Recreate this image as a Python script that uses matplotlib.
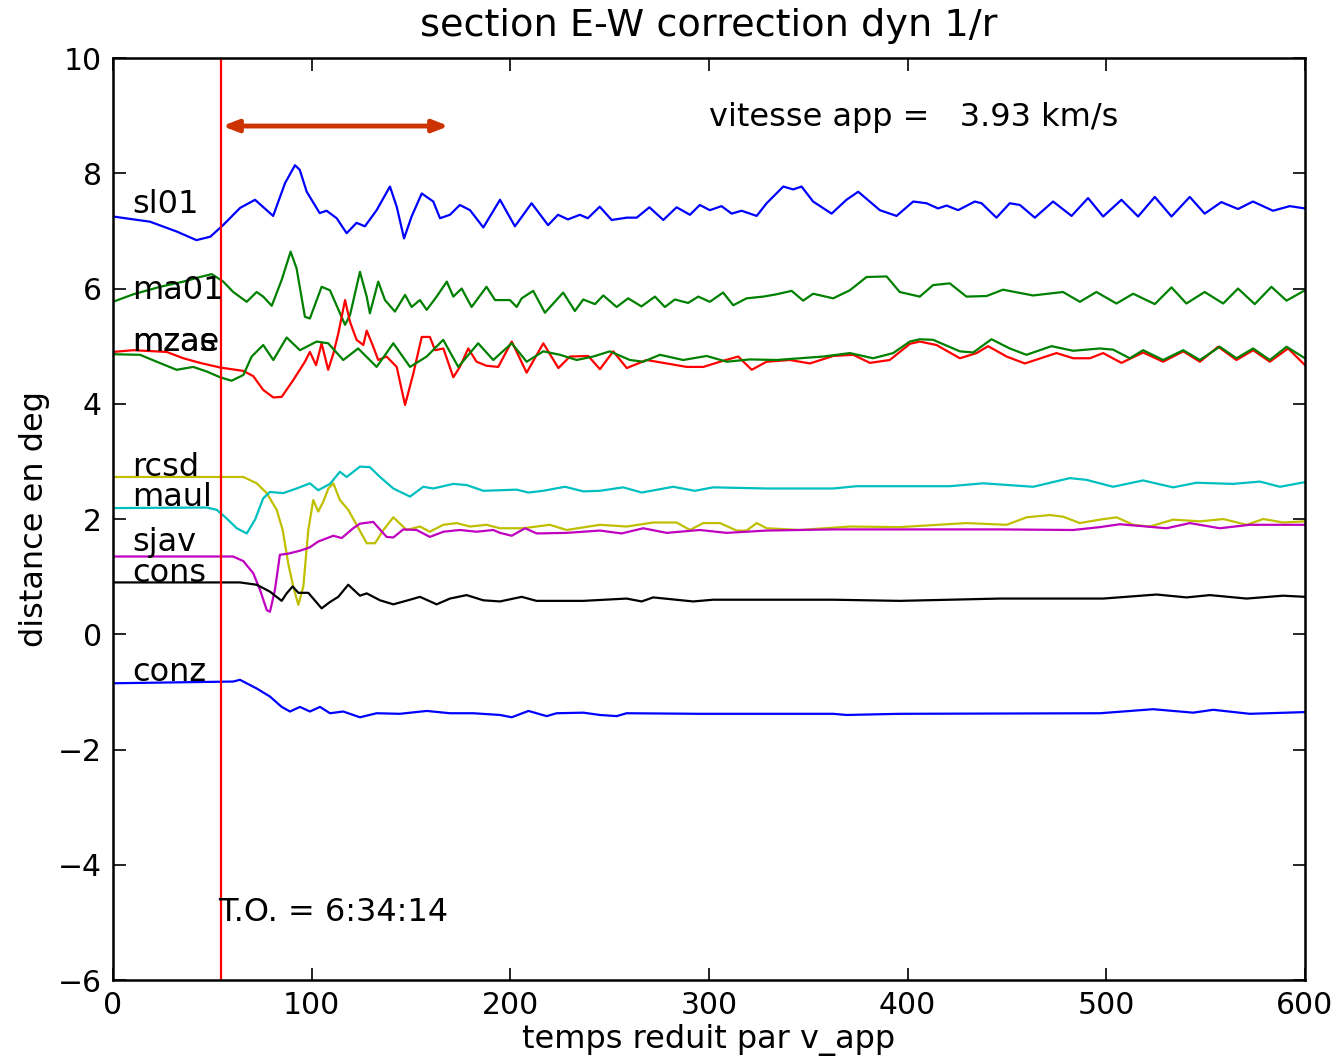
import numpy as np
import matplotlib
matplotlib.use("Agg")
import matplotlib.pyplot as plt

plt.rcParams['font.family'] = ['DejaVu Sans']
plt.rcParams['axes.unicode_minus'] = True

sl01_t = [0, 18.6, 32, 42, 49, 55.4, 64, 71.5, 80.6, 86.6, 91.6, 94, 97.5, 104, 107.5, 112.6, 117.6,
          122.6, 126.8, 132.7, 139.4, 142.8, 146.5, 150.3, 155.4, 161.2, 164.6, 169.6, 174.6, 179.7,
          186.4, 194.8, 202.3, 210.7, 219, 224, 229, 235, 239, 245, 251, 258.6, 263.6, 270, 277,
          283.7, 290.4, 295.4, 300.4, 306.3, 311.4, 316.4, 324, 329, 337.4, 342.4, 346.6, 352.4,
          361.7, 369.2, 375.1, 386, 394.4, 402.8, 409.5, 415.3, 419.6, 425.4, 433.8, 437.2, 444.7,
          451.4, 456.5, 464, 473.2, 482.5, 490.8, 498.4, 507.6, 516, 524.4, 532.8, 542, 549.5,
          557.9, 566.3, 573.8, 583.9, 592.3, 600]
sl01_d = [7.25, 7.16, 6.99, 6.84, 6.90, 7.10, 7.40, 7.54, 7.26, 7.83, 8.14, 8.06, 7.68, 7.31, 7.35,
          7.22, 6.96, 7.14, 7.08, 7.36, 7.77, 7.42, 6.87, 7.25, 7.65, 7.51, 7.22, 7.28, 7.45, 7.36,
          7.06, 7.54, 7.08, 7.48, 7.10, 7.28, 7.20, 7.28, 7.22, 7.42, 7.19, 7.23, 7.23, 7.41, 7.19,
          7.41, 7.28, 7.45, 7.36, 7.43, 7.30, 7.35, 7.26, 7.48, 7.77, 7.72, 7.77, 7.51, 7.30, 7.54,
          7.68, 7.36, 7.26, 7.51, 7.48, 7.39, 7.44, 7.36, 7.51, 7.48, 7.23, 7.48, 7.45, 7.23, 7.51,
          7.26, 7.57, 7.25, 7.54, 7.25, 7.59, 7.25, 7.59, 7.30, 7.50, 7.38, 7.51, 7.35, 7.43, 7.39]

ma01_t = [0, 10.2, 23.7, 35.4, 43.8, 49.7, 55.5, 60.5, 67.3, 72.3, 75.6, 79.9, 84.9, 89.4, 92.4,
          96.6, 99.1, 105, 109.2, 116.8, 119.3, 124.3, 127.7, 129.3, 133.5, 136.9, 141.9, 147,
          150.3, 154.5, 157.9, 162.9, 168, 171.3, 175.5, 180.5, 188, 192.3, 199.8, 203.2, 205.7,
          211.5, 217.4, 226.6, 232.5, 236.7, 242.6, 246.8, 253.5, 259.3, 266, 272.8, 277.8, 282.8,
          289.5, 294.6, 300.4, 307.1, 312.2, 318.9, 327.3, 334, 341.6, 347.4, 352.4, 362.5, 370.9,
          379.3, 389.4, 396, 406.1, 412.8, 421.2, 429.6, 439.7, 448, 463.1, 478.2, 486.7, 495,
          505.1, 513.5, 524.4, 532.8, 540.3, 549.5, 558.8, 566.3, 574.7, 583.1, 590.7, 600]
ma01_d = [5.77, 5.90, 6.03, 6.12, 6.20, 6.25, 6.12, 5.94, 5.77, 5.94, 5.86, 5.70, 6.15, 6.64, 6.35,
          5.51, 5.48, 6.03, 5.97, 5.37, 5.54, 6.29, 5.86, 5.57, 6.12, 5.80, 5.60, 5.89, 5.68, 5.80,
          5.63, 5.86, 6.12, 5.86, 6.00, 5.68, 6.03, 5.80, 5.80, 5.68, 5.83, 5.96, 5.58, 5.93, 5.61,
          5.81, 5.73, 5.88, 5.68, 5.83, 5.69, 5.86, 5.68, 5.81, 5.75, 5.86, 5.77, 5.93, 5.71, 5.83,
          5.86, 5.90, 5.96, 5.79, 5.91, 5.83, 5.97, 6.20, 6.21, 5.94, 5.86, 6.06, 6.09, 5.86, 5.87,
          5.98, 5.88, 5.94, 5.77, 5.94, 5.74, 5.91, 5.73, 6.02, 5.74, 5.94, 5.74, 6.00, 5.73, 6.03,
          5.79, 5.97]

mzas_t = [0, 10.2, 27, 35.4, 43.8, 53.9, 65.6, 70.6, 75.6, 80.7, 84.9, 90.7, 96.6, 99.1, 102.2,
          105, 108.3, 110.9, 113.4, 116.8, 119.3, 122.6, 126, 127.7, 131, 133.5, 137.7, 142.8, 147,
          151.2, 155.4, 159.5, 162.1, 166.3, 171.3, 174.6, 178.8, 183, 188, 193.9, 200.7, 208.2,
          216.6, 224.2, 230, 239.2, 245.1, 251.8, 258.6, 268.6, 278.7, 288.7, 297.2, 305.5, 314.7,
          321.5, 329, 340.7, 350.8, 362.5, 372.6, 381, 391, 401.1, 406.1, 414.5, 426.3, 434.7,
          440.5, 449.8, 459, 474.9, 483.4, 491.7, 498.4, 507.6, 518.5, 528.6, 538.7, 547.1, 556.3,
          565.5, 573.9, 582.3, 591.5, 600]
mzas_d = [4.90, 4.93, 4.90, 4.79, 4.71, 4.63, 4.57, 4.48, 4.24, 4.11, 4.12, 4.41, 4.73, 4.90, 4.67,
          5.05, 4.59, 4.87, 5.22, 5.80, 5.42, 5.11, 5.02, 5.27, 4.99, 4.76, 4.82, 4.64, 3.98, 4.53,
          5.16, 5.16, 4.93, 4.96, 4.46, 4.64, 4.96, 4.73, 4.66, 4.64, 5.08, 4.54, 5.05, 4.62, 4.82,
          4.83, 4.60, 4.91, 4.62, 4.76, 4.70, 4.64, 4.64, 4.73, 4.82, 4.59, 4.73, 4.76, 4.70, 4.83,
          4.85, 4.71, 4.76, 5.04, 5.08, 5.02, 4.79, 4.88, 5.00, 4.82, 4.70, 4.88, 4.79, 4.79, 4.88,
          4.71, 4.89, 4.73, 4.91, 4.73, 4.99, 4.76, 4.93, 4.73, 4.96, 4.67]

mzae_t = [0, 13.6, 22, 32, 40.4, 47.2, 53.9, 59.7, 65.6, 69.8, 75.6, 80.7, 87.4, 94.1, 102.5,
          108.3, 115.9, 123.4, 132.7, 141.1, 149.5, 157.9, 166.2, 173.8, 183.8, 191.4, 200.7, 208.2,
          216.6, 225, 233.4, 241.7, 250.1, 260.2, 266.9, 275.3, 287, 298.8, 308.9, 320.6, 334,
          345.7, 357.5, 370.9, 382.6, 392.7, 401.1, 406.1, 412.8, 426.3, 433, 442.2, 451.4, 459.8,
          472.4, 483.3, 496.7, 503.4, 511.8, 518.5, 528.6, 538.7, 547.1, 557.1, 565.5, 573.9,
          582.3, 590.7, 600]
mzae_d = [4.86, 4.85, 4.73, 4.59, 4.64, 4.56, 4.46, 4.40, 4.50, 4.82, 5.02, 4.76, 5.15, 4.93, 5.08,
          5.05, 4.76, 4.96, 4.64, 5.05, 4.64, 4.82, 5.11, 4.64, 5.05, 4.76, 5.05, 4.73, 4.91, 4.85,
          4.76, 4.82, 4.91, 4.76, 4.73, 4.85, 4.76, 4.83, 4.73, 4.77, 4.76, 4.79, 4.82, 4.88, 4.79,
          4.88, 5.08, 5.12, 5.11, 4.91, 4.89, 5.12, 4.96, 4.85, 5.00, 4.92, 4.96, 4.94, 4.79, 4.93,
          4.76, 4.93, 4.76, 4.99, 4.79, 4.96, 4.76, 4.99, 4.79]

maul_t = [0, 47.2, 52.2, 57.2, 62.3, 67.3, 71.5, 75.6, 79, 85.7, 92.4, 99.1, 103.3, 109.2, 114.2,
          117.6, 124.3, 129.3, 134.4, 141.1, 149.5, 156.2, 161.2, 171.3, 178, 186.4, 194.8, 203.2,
          209.1, 216.6, 227.5, 236.7, 245.1, 256.8, 266.1, 282, 292.9, 302.1, 329, 362.5, 374.3,
          396, 421.2, 438, 463.2, 481.6, 490, 503.4, 518.5, 533.6, 545.4, 563.8, 577.3, 587.4, 600]
maul_d = [2.19, 2.20, 2.16, 2.01, 1.84, 1.75, 1.99, 2.36, 2.47, 2.45, 2.53, 2.62, 2.50, 2.61, 2.82,
          2.73, 2.91, 2.90, 2.73, 2.53, 2.39, 2.56, 2.53, 2.61, 2.59, 2.49, 2.50, 2.51, 2.46, 2.49,
          2.56, 2.48, 2.49, 2.55, 2.46, 2.56, 2.49, 2.55, 2.53, 2.53, 2.57, 2.57, 2.57, 2.62, 2.56,
          2.71, 2.68, 2.56, 2.67, 2.55, 2.63, 2.61, 2.65, 2.56, 2.64]

sjav_t = [0, 60.5, 65.6, 70.6, 74, 77.4, 79, 81.5, 84, 88.2, 94.1, 99.1, 103.3, 110.9, 115.1,
          120.9, 124.3, 131, 137.7, 141.1, 146.1, 152.8, 159.5, 166.3, 174.6, 183, 191.4, 194.8,
          200.7, 207.4, 213.3, 228.3, 245.1, 256, 266.9, 278.7, 295.4, 308.9, 329, 362.5, 396,
          446.4, 483.3, 496.8, 506.8, 530.3, 542, 557.1, 572.2, 600]
sjav_d = [1.35, 1.35, 1.27, 1.06, 0.77, 0.42, 0.39, 0.77, 1.38, 1.40, 1.45, 1.51, 1.61, 1.71, 1.67,
          1.84, 1.92, 1.95, 1.69, 1.68, 1.82, 1.81, 1.69, 1.78, 1.81, 1.78, 1.81, 1.76, 1.71, 1.84,
          1.75, 1.76, 1.80, 1.75, 1.84, 1.76, 1.81, 1.76, 1.80, 1.82, 1.82, 1.82, 1.81, 1.86, 1.91,
          1.84, 1.93, 1.84, 1.90, 1.90]

rcsd_t = [0, 65.6, 72.3, 77.4, 82.4, 85.4, 88.2, 90.7, 93.3, 95.8, 98.3, 100.8, 103.3, 105.8,
          108.4, 110.9, 114.2, 118.4, 122.6, 127.7, 131.9, 136.1, 141.1, 147.8, 154.5, 159.5,
          166.2, 173, 179.7, 188, 194.8, 206.5, 219.9, 228.3, 245.1, 258.5, 271.9, 283.7, 290.4,
          297.1, 305.5, 313.9, 318.9, 324, 329, 345.7, 370.9, 396, 429.6, 449.8, 459.9, 471.6,
          478.3, 486.7, 496.8, 505.2, 513.5, 521.9, 533.7, 547.1, 558.9, 570.6, 579, 589, 600]
rcsd_d = [2.73, 2.73, 2.62, 2.45, 2.16, 1.81, 1.23, 0.83, 0.51, 0.83, 1.81, 2.33, 2.13, 2.30, 2.53,
          2.62, 2.33, 2.16, 1.90, 1.58, 1.58, 1.81, 2.03, 1.81, 1.87, 1.78, 1.90, 1.93, 1.87, 1.90,
          1.84, 1.84, 1.90, 1.81, 1.90, 1.87, 1.94, 1.94, 1.81, 1.93, 1.93, 1.80, 1.80, 1.93, 1.84,
          1.81, 1.87, 1.86, 1.93, 1.90, 2.03, 2.07, 2.04, 1.93, 1.99, 2.03, 1.90, 1.87, 1.99, 1.96,
          2.00, 1.90, 2.00, 1.94, 1.96]

cons_t = [0, 63.9, 72.3, 79, 84.9, 87.4, 90.4, 93.3, 98.3, 105, 109.2, 113.4, 118.4, 124.3, 127.7,
          134.4, 141.1, 149.5, 154.5, 162.9, 169.6, 178, 186.4, 194.8, 205.7, 213.2, 236.7, 258.5,
          266.1, 271.9, 292, 302.1, 362.5, 396, 446.4, 498.4, 525.3, 540.4, 552.1, 570.6, 589, 600]
cons_d = [0.90, 0.90, 0.86, 0.74, 0.58, 0.71, 0.83, 0.72, 0.72, 0.45, 0.56, 0.65, 0.86, 0.67, 0.71,
          0.59, 0.52, 0.60, 0.65, 0.52, 0.62, 0.68, 0.59, 0.57, 0.65, 0.58, 0.58, 0.62, 0.57, 0.64,
          0.57, 0.60, 0.60, 0.58, 0.62, 0.62, 0.69, 0.64, 0.68, 0.62, 0.67, 0.65]

conz_t = [0, 60.5, 63.9, 72.3, 79, 84.9, 89.1, 94.1, 99.1, 104.2, 109.2, 115.9, 124.3, 132.7,
          144.4, 157.9, 169.6, 181.3, 194.8, 200.7, 209.1, 218.3, 223.3, 236.7, 245.1, 253.5,
          258.5, 295.4, 362.5, 369.2, 396, 496.8, 523.6, 543.7, 553.8, 572.2, 600]
conz_d = [-0.85, -0.82, -0.79, -0.94, -1.08, -1.26, -1.34, -1.26, -1.34, -1.26, -1.37, -1.34, -1.44,
          -1.37, -1.38, -1.33, -1.37, -1.37, -1.40, -1.44, -1.33, -1.42, -1.37, -1.36, -1.40, -1.42,
          -1.37, -1.38, -1.38, -1.40, -1.38, -1.37, -1.30, -1.36, -1.31, -1.38, -1.35]

# nom de station et position de l'etiquette
stations = ['sl01', 'ma01', 'mzas', 'mzae', 'rcsd', 'maul', 'sjav', 'cons', 'conz']
label_y = [7.45, 5.97, 5.07, 5.07, 2.90, 2.38, 1.60, 1.06, -0.66]

t0 = 54.5            # temps origine
v_app = 3.93
window = (55, 169)   # fenetre de la fleche

traces = [
    (sl01_t, sl01_d, 'b'),
    (ma01_t, ma01_d, 'g'),
    (mzas_t, mzas_d, 'r'),
    (mzae_t, mzae_d, 'g'),
    (rcsd_t, rcsd_d, '#bfbf00'),
    (maul_t, maul_d, '#00bfbf'),
    (sjav_t, sjav_d, '#bf00bf'),
    (cons_t, cons_d, 'k'),
    (conz_t, conz_d, 'b'),
]

fig = plt.figure(figsize=(13.39, 10.61), dpi=100)
ax = fig.add_axes([0.0844, 0.0763, 0.8902, 0.869])

for t, d, c in traces:
    ax.plot(t, d, color=c, lw=1.6)

fs = 23
# mzas et mzae se superposent (meme distance)
for name, y in zip(stations, label_y):
    ax.text(9.5, y, name, fontsize=fs, va='center', ha='left', color='k')

ax.axvline(t0, color='r', lw=1.6)
ax.annotate('', xy=(window[0], 8.82), xytext=(window[1], 8.82),
            arrowprops=dict(arrowstyle='<|-|>,head_length=0.9,head_width=0.35',
                            color='#cc3300', lw=3.5, shrinkA=0, shrinkB=0))

ax.text(300, 8.97, 'vitesse app =   %.2f km/s' % v_app, fontsize=fs, va='center')
ax.text(53, -4.83, 'T.O. = 6:34:14', fontsize=fs, va='center')

ax.set_xlim(0, 600)
ax.set_ylim(-6, 10)
ax.set_xticks(np.arange(0, 601, 100))
ax.set_yticks(np.arange(-6, 11, 2))
ax.tick_params(direction='in', top=True, right=True, length=9, width=1.2, labelsize=21.5, pad=8)
for s in ax.spines.values():
    s.set_linewidth(1.8)

ax.set_title('section E-W correction dyn 1/r', fontsize=27.5, pad=16)
ax.set_xlabel('temps reduit par v_app', fontsize=fs, labelpad=3)
ax.set_ylabel('distance en deg', fontsize=fs, labelpad=6)

fig.savefig('out.png', dpi=100)
